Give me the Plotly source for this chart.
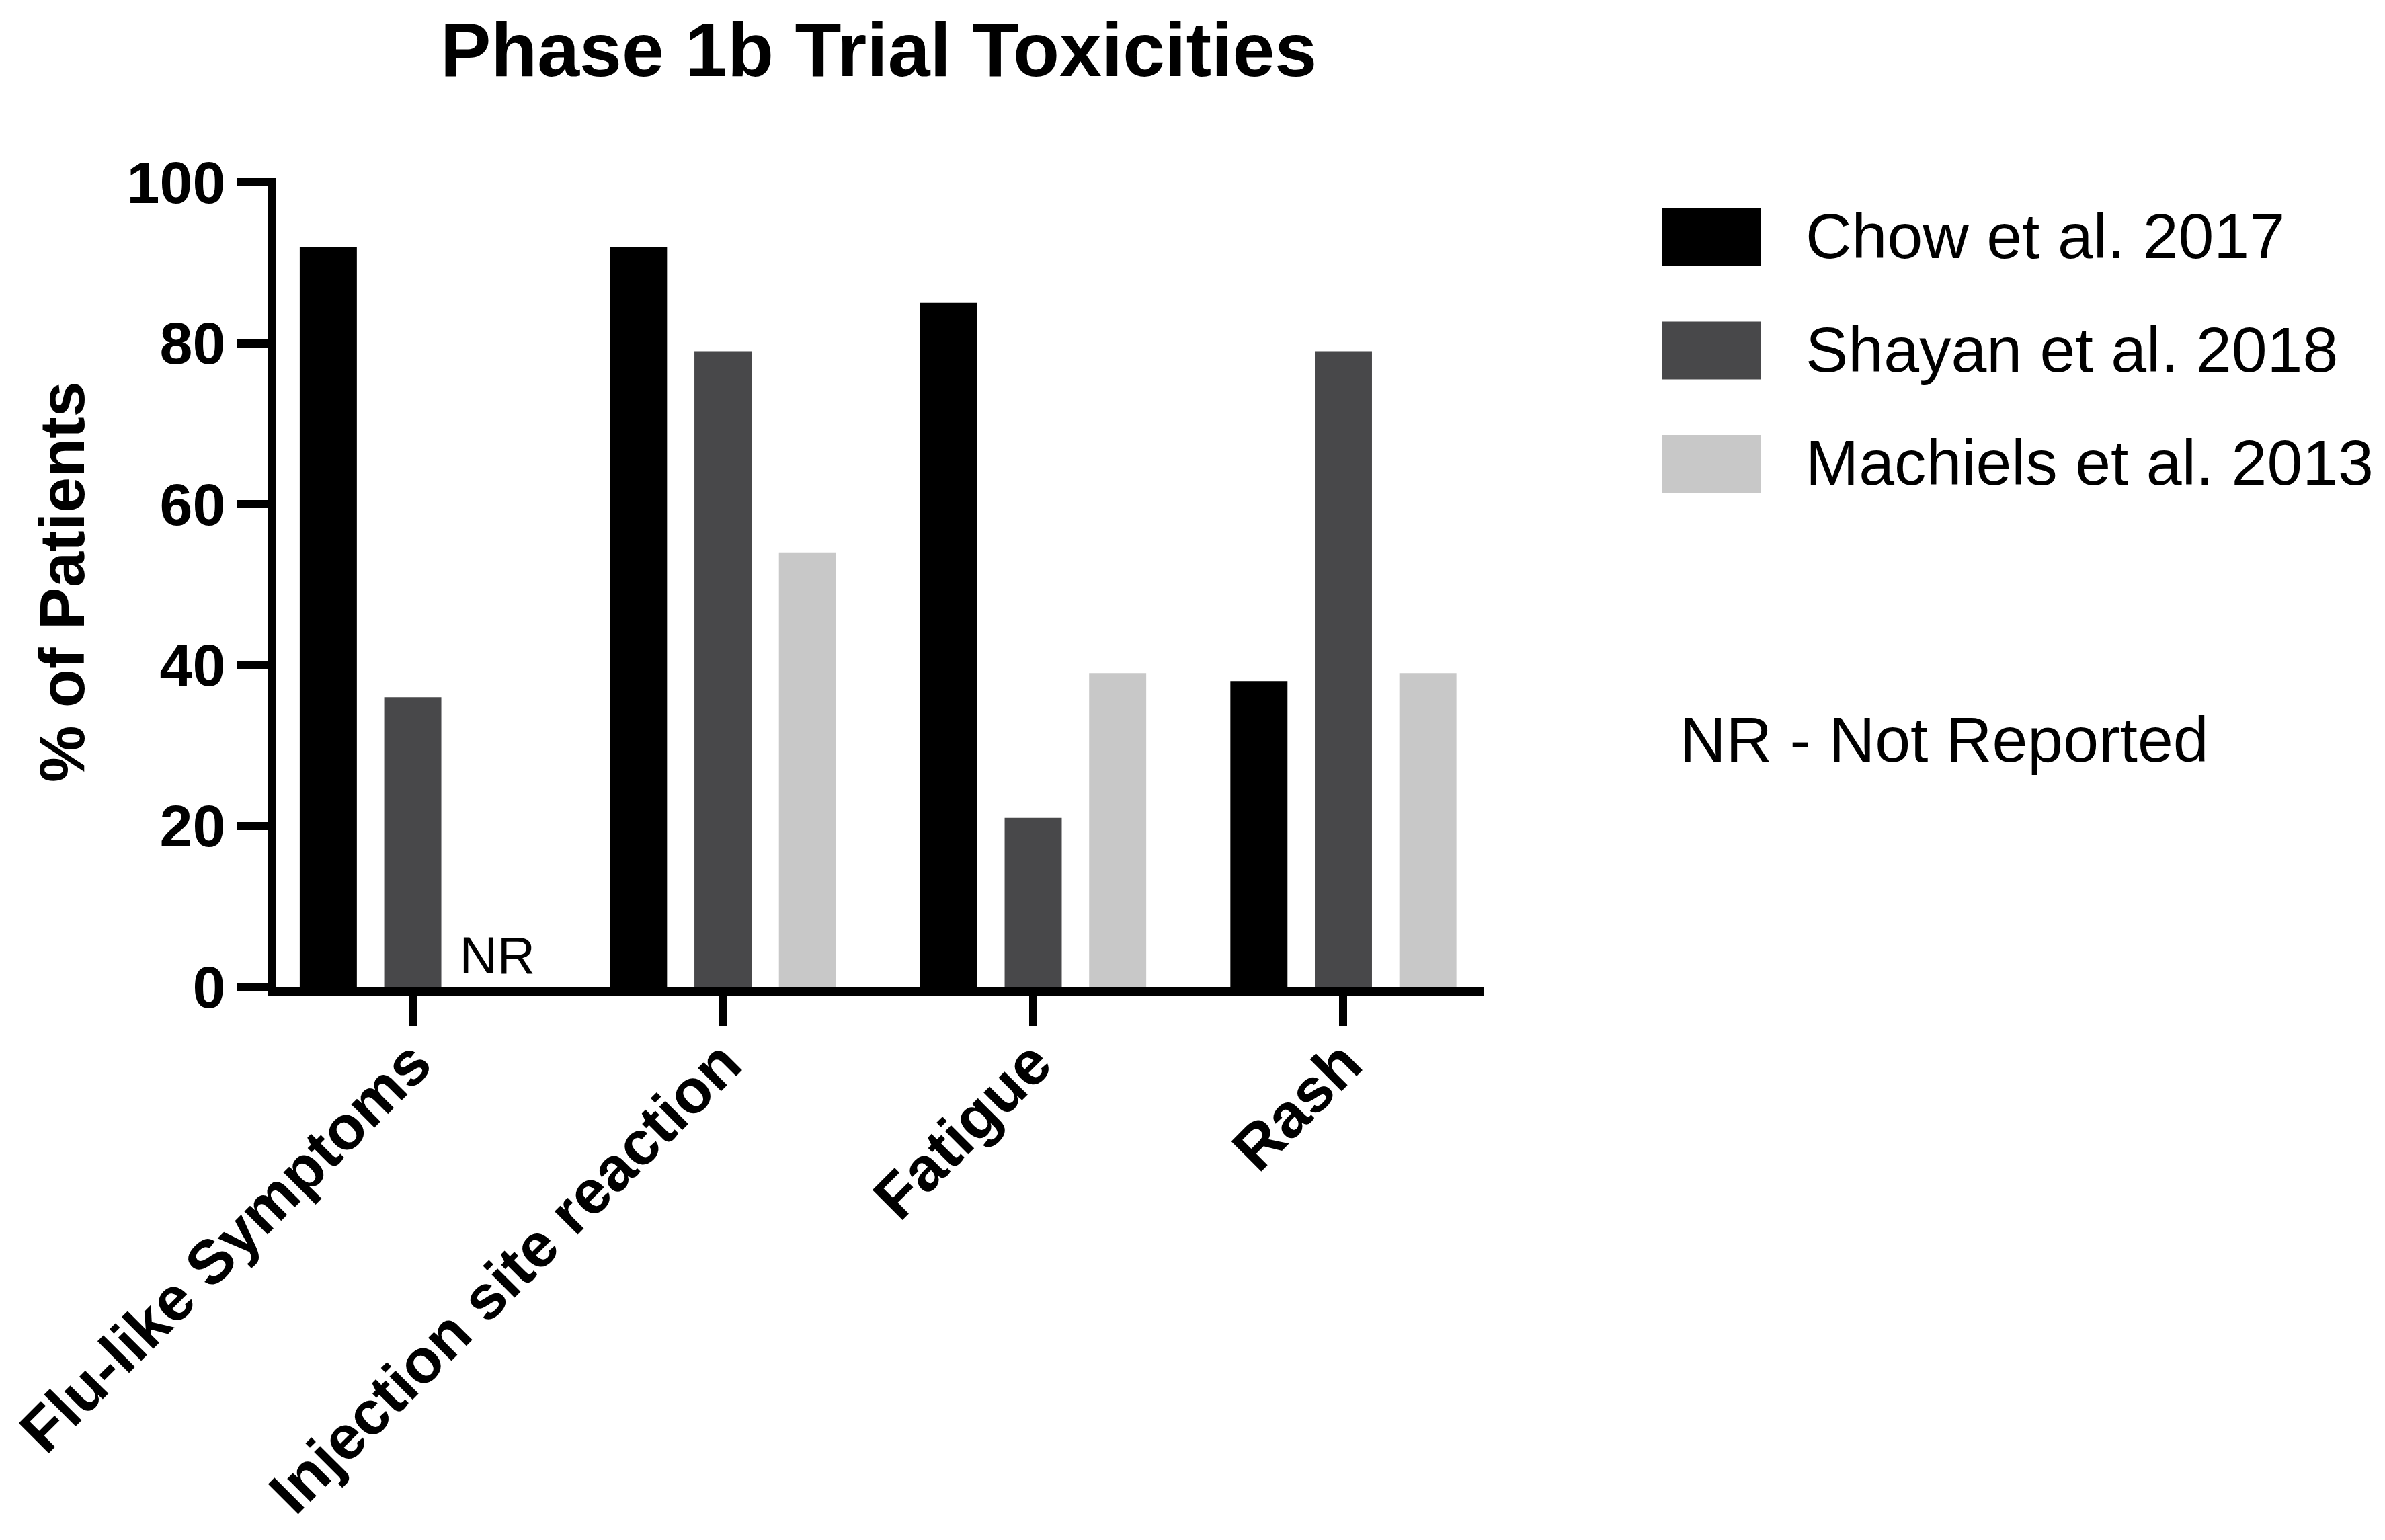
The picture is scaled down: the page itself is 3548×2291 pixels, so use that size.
import plotly.graph_objects as go

# ---------------- data ----------------
categories = ["Flu-like Symptoms", "Injection site reaction", "Fatigue", "Rash"]
series_names = ["Chow et al. 2017", "Shayan et al. 2018", "Machiels et al. 2013"]
chow = [92, 92, 85, 38]
shayan = [36, 79, 21, 79]
machiels = [None, 54, 39, 39]          # None = not reported
y_ticks = [0, 20, 40, 60, 80, 100]
title_text = "Phase 1b Trial Toxicities"
y_title = "% of Patients"
nr_label = "NR"
note_text = "NR - Not Reported"

# ---------------- style ----------------
colors = ["#000000", "#48484A", "#C8C8C8"]
FONT = "Liberation Sans, Arial, sans-serif"
W, H = 3548, 2291
OFF = 8                                   # page body margin
# plot area (page pixel coordinates, converted to figure coordinates)
L, R, T, B = 411 - OFF, 2208 - OFF, 265 - OFF, 1468 - OFF


def px_x(x):
    return (x - OFF - L) / (R - L)


def px_y(y):
    return (B - (y - OFF)) / (B - T)


series_values = [chow, shayan, machiels]

fig = go.Figure()
for name, vals, col in zip(series_names, series_values, colors):
    yv = [v if v is not None else 0 for v in vals]
    txt = [nr_label if v is None else "" for v in vals]
    fig.add_trace(go.Bar(
        x=categories, y=yv, name=name,
        marker=dict(color=col, line=dict(width=0)),
        text=txt, textposition="outside", constraintext="none",
        textangle=0, cliponaxis=False,
        textfont=dict(family=FONT, size=78, color="#000000"),
        showlegend=False,
    ))

shapes = []
annotations = []
# manual legend with large swatches
for i, (name, col) in enumerate(zip(series_names, colors)):
    top = 310 + i * 168.5
    shapes.append(dict(type="rect", xref="paper", yref="paper",
                       x0=px_x(2472), x1=px_x(2620),
                       y0=px_y(top + 86), y1=px_y(top),
                       fillcolor=col, line=dict(width=0)))
    annotations.append(dict(text=name, xref="paper", yref="paper",
                            x=px_x(2684), y=px_y(top + 41),
                            xanchor="left", yanchor="middle", showarrow=False,
                            font=dict(family=FONT, size=95, color="#000000")))

annotations.append(dict(text=note_text, xref="paper", yref="paper",
                        x=px_x(2497), y=px_y(1100),
                        xanchor="left", yanchor="middle", showarrow=False,
                        font=dict(family=FONT, size=95, color="#000000")))

annotations.append(dict(text=y_title, xref="paper", yref="paper",
                        x=px_x(92), y=px_y(866), textangle=-90,
                        xanchor="center", yanchor="middle", showarrow=False,
                        font=dict(family=FONT, size=95, color="#000000",
                                  weight="bold")))

axis_common = dict(
    showline=True, linewidth=13, linecolor="#000000",
    ticks="outside", ticklen=45, tickwidth=12, tickcolor="#000000",
    showgrid=False, zeroline=False,
)

fig.update_layout(
    width=W, height=H,
    margin=dict(l=L, r=W - R, t=T, b=H - B, autoexpand=False),
    paper_bgcolor="white", plot_bgcolor="white",
    barmode="group", bargap=0.183, bargroupgap=0.324,
    title=dict(text=title_text, x=(1307 - OFF) / W, xref="container",
               xanchor="center",
               y=1 - (73 - OFF) / H, yref="container", yanchor="middle",
               font=dict(family=FONT, size=113, color="#000000",
                         weight="bold")),
    xaxis=dict(type="category", range=[-0.44, 3.454], tickangle=-45,
               ticklabelstandoff=-35,
               tickfont=dict(family=FONT, size=92, color="#000000",
                             weight="bold"),
               **axis_common),
    yaxis=dict(range=[0, 100.52], tickvals=y_ticks,
               tickfont=dict(family=FONT, size=88, color="#000000",
                             weight="bold"),
               **axis_common),
    shapes=shapes,
    annotations=annotations,
    showlegend=False,
)

fig.write_html("out.html")
